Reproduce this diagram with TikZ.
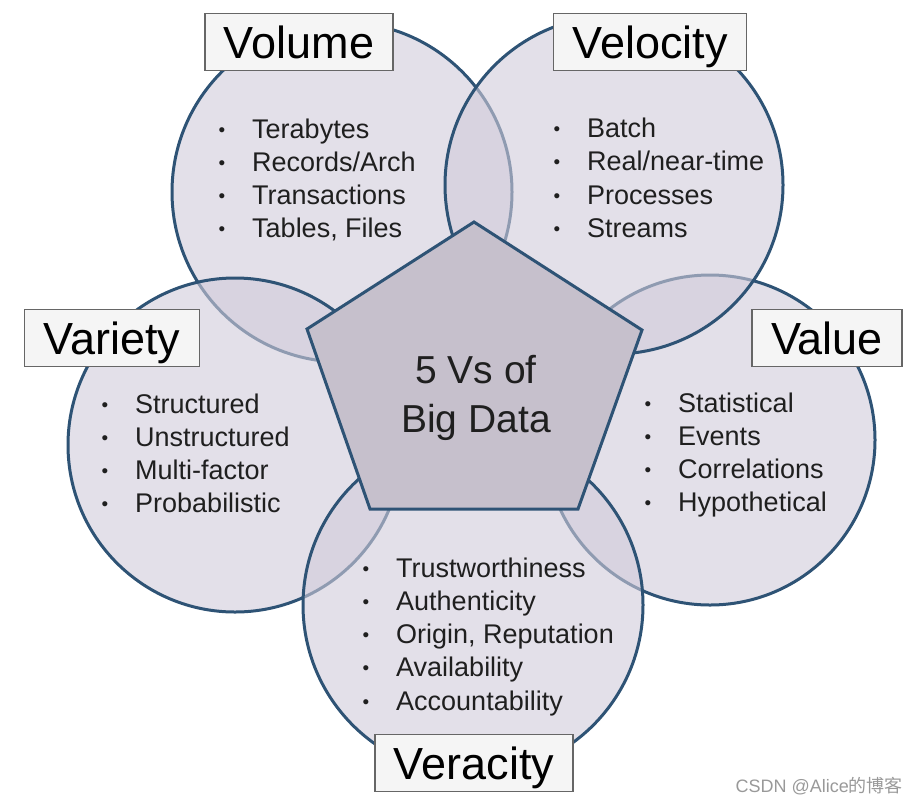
\documentclass[tikz,border=0pt]{standalone}
\usepackage{fontspec}
\setmainfont{Liberation Sans}
\newfontfamily\cjk{Noto Sans CJK SC}
\definecolor{vline}{HTML}{2E5375}
\definecolor{vfill}{HTML}{D0CBDA}
\definecolor{pfill}{HTML}{C6C0CC}
\definecolor{lbox}{HTML}{F5F5F5}
\newcommand\vbul{\makebox[35pt][l]{\hspace{1.5pt}\raisebox{2pt}{\scalebox{0.7}{\textbullet}}}}

\begin{document}
\begin{tikzpicture}[x=1pt, y=-1pt]
	\tikzset{vcirc/.style={circle, draw=vline, line width=3pt, fill=vfill, fill opacity=0.6, inner sep=0pt},
	vlabel/.style={draw=black!60, fill=lbox, line width=1.5pt, inner xsep=19pt, minimum height=57pt,
		text height=32pt, text depth=0pt, font=\fontsize{45}{50}\selectfont},
	item/.style={anchor=base west, inner sep=0pt, text=black!88, font=\fontsize{27}{30}\selectfont},
	big/.style={anchor=base, inner sep=0pt, text=black!88, font=\fontsize{39}{49}\selectfont}};
	\useasboundingbox (0,0) rectangle (917,804);

	\foreach \n/\x/\y/\r in {volC/342/192/170, valC/710/440/165, varC/235/445/167,
	velC/614/185/169, verC/473/605/170}{
		\node[vcirc, minimum size={2*\r pt}] (\n) at (\x,\y) {};
	}

	\draw[draw=vline, line width=3pt, fill=pfill] (474,222) -- (642,330) -- (578,509)
		-- (370,509) -- (307,329) -- cycle;
	\node[big] (big1) at (476,383) {5 Vs of};
	\node[big] (big2) at (476,432) {Big Data};

	\foreach \n/\x/\y/\t in {volL/299/42/Volume, velL/650/42/Velocity, varL/112/338/Variety,
	valL/827/338/Value, verL/474/763/Veracity}{
		\node[vlabel] (\n) at (\x,\y) {\t};
	}

	\foreach \t [count=\i] in {Terabytes, Records/Arch, Transactions, {Tables, Files}}
		\node[item] (vol\i) at (217, 104.7+33.3*\i) {\vbul\t};
	\foreach \t [count=\i] in {Batch, Real/near-time, Processes, Streams}
		\node[item] (vel\i) at (552, 104.2+33.3*\i) {\vbul\t};
	\foreach \t [count=\i] in {Structured, Unstructured, Multi-factor, Probabilistic}
		\node[item] (var\i) at (100, 379.7+33.3*\i) {\vbul\t};
	\foreach \t [count=\i] in {Statistical, Events, Correlations, Hypothetical}
		\node[item] (val\i) at (643, 378.7+33.3*\i) {\vbul\t};
	\foreach \t [count=\i] in {Trustworthiness, Authenticity, {Origin, Reputation}, Availability, Accountability}
		\node[item] (ver\i) at (361, 543.7+33.3*\i) {\vbul\t};

	\node[anchor=base east, inner sep=0pt, text=black!40, font=\fontsize{18}{20}\selectfont] (mark)
		at (903,792) {CSDN @Alice{\cjk 的博客}};
\end{tikzpicture}
\end{document}
